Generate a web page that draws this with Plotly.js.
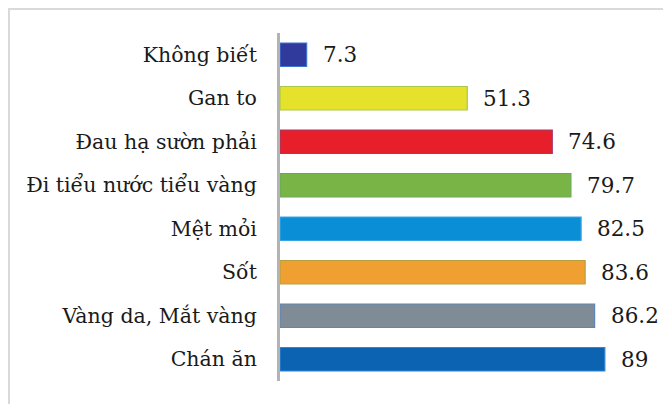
<!DOCTYPE html>
<html>
<head>
<meta charset="utf-8">
<script src="https://cdn.plot.ly/plotly-3.0.1.min.js"></script>
<style>
  html, body { margin: 0; padding: 0; background: #ffffff; overflow: hidden; }
  #frame {
    position: absolute; left: 8px; top: 8px; width: 720px; height: 460px;
    border: 2px solid #d9d9d9; box-sizing: border-box;
  }
  #chart { position: absolute; left: 0; top: 0; width: 663px; height: 404px; }
</style>
</head>
<body>
<div id="frame"></div>
<div id="chart"></div>
<script>
// Symptoms (top to bottom) and their percentages
const symptoms = [
  "Không biết",
  "Gan to",
  "Đau hạ sườn phải",
  "Đi tiểu nước tiểu vàng",
  "Mệt mỏi",
  "Sốt",
  "Vàng da, Mắt vàng",
  "Chán ăn"
];
const percents = [7.3, 51.3, 74.6, 79.7, 82.5, 83.6, 86.2, 89];

// One fill colour and one outline colour per bar
const fillColors = ["#2f3a9c", "#e6e22c", "#e61f2b", "#79b446", "#0a8fd6", "#f0a030", "#7f8b95", "#0b63b2"];
const edgeColors = ["#3f74d0", "#a9c84a", "#a23a6a", "#6aa85a", "#3aa6e6", "#b8a040", "#5f86b8", "#2f86d6"];

const serif = "DejaVu Serif";

const trace = {
  type: "bar",
  orientation: "h",
  x: percents,
  y: symptoms,
  marker: { color: fillColors, line: { color: edgeColors, width: 1.2 } },
  hoverinfo: "none"
};

// Value labels placed just past the end of each bar
const labels = symptoms.map((s, i) => ({
  x: percents[i],
  y: s,
  xref: "x",
  yref: "y",
  text: String(percents[i]),
  showarrow: false,
  xanchor: "left",
  yanchor: "middle",
  xshift: 14,
  font: { family: serif, size: 21.5, color: "#1a1a1a" }
}));

const layout = {
  width: 663,
  height: 404,
  margin: { l: 280, r: 18, t: 33, b: 23 },
  paper_bgcolor: "rgba(0,0,0,0)",
  plot_bgcolor: "rgba(0,0,0,0)",
  bargap: 0.46,
  showlegend: false,
  font: { family: serif },
  xaxis: {
    range: [0, 100],
    visible: false,
    fixedrange: true
  },
  yaxis: {
    autorange: "reversed",
    showline: true,
    linecolor: "#b3b3b3",
    linewidth: 3,
    ticks: "",
    showgrid: false,
    zeroline: false,
    ticklabelstandoff: 16,
    tickfont: { family: serif, size: 20.5, color: "#1a1a1a" },
    fixedrange: true
  },
  annotations: labels
};

Plotly.newPlot("chart", [trace], layout, { displayModeBar: false, staticPlot: true });
</script>
</body>
</html>
